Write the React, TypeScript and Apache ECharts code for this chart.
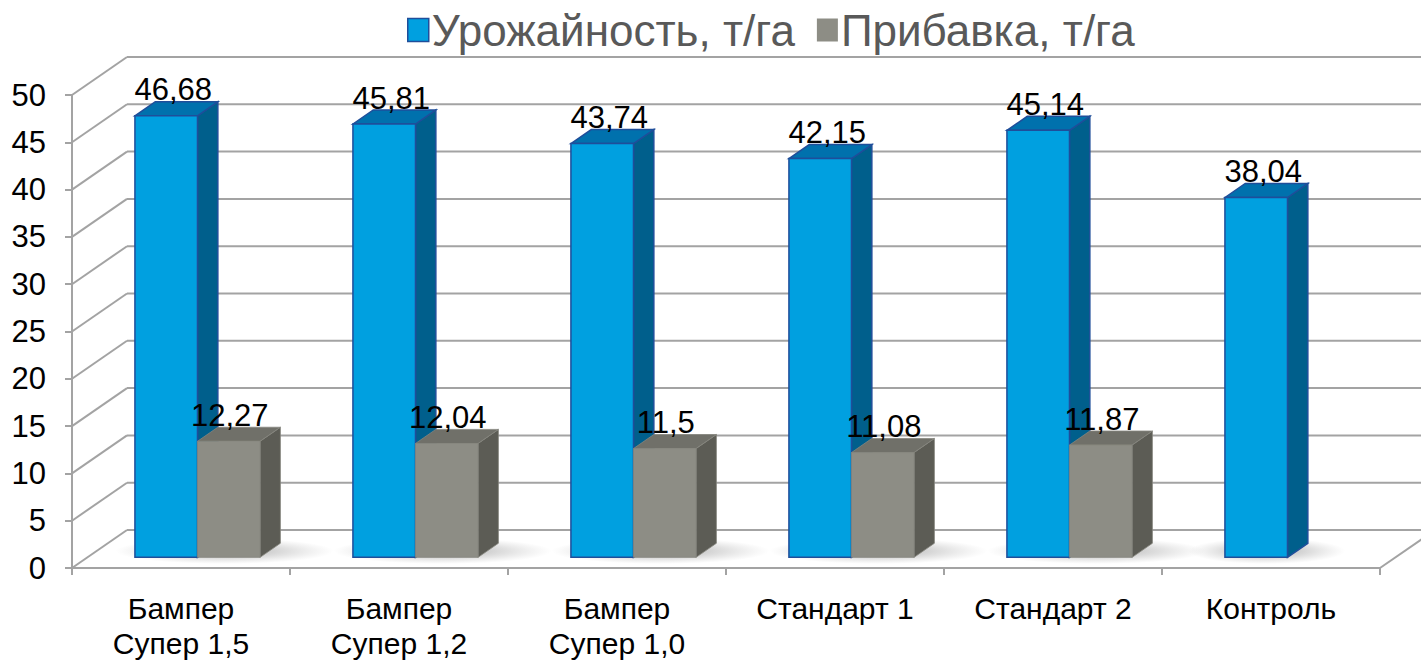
import React, { useEffect, useRef } from 'react';
import * as echarts from 'echarts';

const categories = ['Бампер\nСупер 1,5', 'Бампер\nСупер 1,2', 'Бампер\nСупер 1,0', 'Стандарт 1', 'Стандарт 2', 'Контроль'];
const yieldValues: number[] = [46.68, 45.81, 43.74, 42.15, 45.14, 38.04];
const increaseValues: (number | null)[] = [12.27, 12.04, 11.5, 11.08, 11.87, null];
const seriesNames = ['Урожайность, т/га', 'Прибавка, т/га'];
const yTickValues = [0, 5, 10, 15, 20, 25, 30, 35, 40, 45, 50];

const FONT = 'Arial, "Liberation Sans", sans-serif';
const DEPTH = [55, -38];
const BAR_D0 = 0.28;
const BAR_DD = 0.37;
const GRID_COLOR = '#A3A3A3';
const LABEL_FS = 31;

const BLUE = { front: '#00A0E0', top: '#0071AD', side: '#005F8C', border: '#1F4E9A' };
const GRAY = { front: '#8D8D85', top: '#707069', side: '#5C5C55', border: '#85857D' };

const fmt = (v: number) => String(v).replace('.', ',');

function barRender(si: number, col: typeof BLUE) {
  return (params: any, api: any) => {
    const idx = api.value(0);
    const v = api.value(1);
    const base = api.coord([idx, 0]);
    const top = api.coord([idx, v]);
    const bw = api.size([1, 0])[0];
    const w = 0.287 * bw;
    const x0 = base[0] + (si === 0 ? -0.282 * bw : 0.005 * bw);
    const ox = DEPTH[0] * BAR_D0, oy = DEPTH[1] * BAR_D0;
    const dx = DEPTH[0] * BAR_DD, dy = DEPTH[1] * BAR_DD;
    const fx0 = x0 + ox, fx1 = x0 + w + ox;
    const fyb = base[1] + oy, fyt = top[1] + oy;
    const bwid = si === 0 ? 1.5 : 0.8;
    const children: any[] = [
      {
        type: 'polygon',
        shape: { points: [[fx1, fyt], [fx1 + dx, fyt + dy], [fx1 + dx, fyb + dy], [fx1, fyb]] },
        style: { fill: col.side, stroke: col.border, lineWidth: bwid },
      },
      {
        type: 'polygon',
        shape: { points: [[fx0, fyt], [fx0 + dx, fyt + dy], [fx1 + dx, fyt + dy], [fx1, fyt]] },
        style: { fill: col.top, stroke: col.border, lineWidth: bwid },
      },
      {
        type: 'polygon',
        shape: { points: [[fx0, fyt], [fx1, fyt], [fx1, fyb], [fx0, fyb]] },
        style: { fill: col.front, stroke: col.border, lineWidth: bwid },
      },
      {
        type: 'text',
        x: (fx0 + fx1) / 2 + (si === 0 ? 7 : 1),
        y: fyt + dy - 1 - 0.35 * LABEL_FS,
        style: {
          text: fmt(v),
          fill: '#000000',
          font: `${LABEL_FS}px ${FONT}`,
          align: 'center',
          verticalAlign: 'middle',
        },
      },
    ];
    return { type: 'group', children };
  };
}

function wallRender(params: any, api: any) {
  const cs = params.coordSys;
  const left = cs.x;
  const right = cs.x + cs.width;
  const children: any[] = [];
  const ln = (x1: number, y1: number, x2: number, y2: number) => ({
    type: 'line',
    shape: { x1, y1, x2, y2 },
    style: { stroke: GRID_COLOR, lineWidth: 2 },
  });
  yTickValues.forEach((t) => {
    const y = api.coord([0, t])[1];
    children.push(ln(left, y, left + DEPTH[0], y + DEPTH[1]));
    children.push(ln(left + DEPTH[0], y + DEPTH[1], right + DEPTH[0], y + DEPTH[1]));
  });
  const y0 = api.coord([0, 0])[1];
  children.push(ln(right, y0, right + DEPTH[0], y0 + DEPTH[1]));
  const bw = api.size([1, 0])[0];
  categories.forEach((_, i) => {
    const c = api.coord([i, 0]);
    const hasGray = increaseValues[i] != null;
    const cx = c[0] + (hasGray ? 0.2 * bw : -0.02 * bw);
    const rx = hasGray ? 0.5 * bw : 0.36 * bw;
    children.push({
      type: 'ellipse',
      shape: { cx, cy: y0 - 17, rx, ry: 13 },
      style: {
        fill: {
          type: 'radial', x: 0.5, y: 0.5, r: 0.5,
          colorStops: [
            { offset: 0, color: 'rgba(60,60,60,0.45)' },
            { offset: 0.6, color: 'rgba(90,90,90,0.18)' },
            { offset: 1, color: 'rgba(120,120,120,0)' },
          ],
        },
      },
    });
  });
  return { type: 'group', children };
}

export default function App() {
  const ref = useRef<HTMLDivElement>(null);
  useEffect(() => {
    if (!ref.current) return;
    const chart = echarts.init(ref.current, null, { renderer: 'svg' });
    chart.setOption({
      animation: false,
      backgroundColor: '#ffffff',
      textStyle: { fontFamily: FONT },
      legend: {
        top: 3,
        left: 402,
        itemWidth: 21,
        itemHeight: 23,
        itemGap: 22,
        textStyle: { fontSize: 44, color: '#595959', fontFamily: FONT, padding: [0, 0, 0, -2] },
        data: [
          { name: seriesNames[0], icon: 'rect', itemStyle: { color: BLUE.front, borderColor: BLUE.border, borderWidth: 1.5 } },
          { name: seriesNames[1], icon: 'rect', itemStyle: { color: GRAY.front, borderColor: GRAY.front, borderWidth: 0 } },
        ],
      },
      grid: { left: 72, right: 41, top: 95, bottom: 95, containLabel: false },
      xAxis: {
        type: 'category',
        data: categories,
        boundaryGap: true,
        axisLine: { show: true, lineStyle: { color: GRID_COLOR, width: 2 } },
        axisTick: { show: true, length: 7, lineStyle: { color: GRID_COLOR, width: 2 } },
        axisLabel: { fontSize: 30, lineHeight: 35, color: '#000000', margin: 23, fontFamily: FONT, interval: 0 },
        splitLine: { show: false },
      },
      yAxis: {
        type: 'value',
        min: 0,
        max: 50,
        interval: 5,
        axisLine: { show: true, lineStyle: { color: GRID_COLOR, width: 2 } },
        axisTick: { show: true, length: 7, lineStyle: { color: GRID_COLOR, width: 2 } },
        axisLabel: { fontSize: LABEL_FS, color: '#000000', margin: 26, fontFamily: FONT },
        splitLine: { show: false },
      },
      series: [
        {
          type: 'custom',
          name: 'walls',
          silent: true,
          clip: false,
          renderItem: wallRender,
          data: [[0, 0]],
          encode: { x: 0, y: 1 },
          z: 1,
        },
        {
          type: 'custom',
          name: seriesNames[0],
          clip: false,
          itemStyle: { color: BLUE.front },
          renderItem: barRender(0, BLUE),
          data: yieldValues.map((v, i) => [i, v]),
          encode: { x: 0, y: 1 },
          z: 2,
        },
        {
          type: 'custom',
          name: seriesNames[1],
          clip: false,
          itemStyle: { color: GRAY.front },
          renderItem: barRender(1, GRAY),
          data: increaseValues.map((v, i) => (v == null ? null : [i, v])).filter((d) => d != null),
          encode: { x: 0, y: 1 },
          z: 3,
        },
      ],
    });
    return () => chart.dispose();
  }, []);
  return <div ref={ref} style={{ width: 1421, height: 663, position: 'absolute', left: 0, top: 0 }} />;
}
